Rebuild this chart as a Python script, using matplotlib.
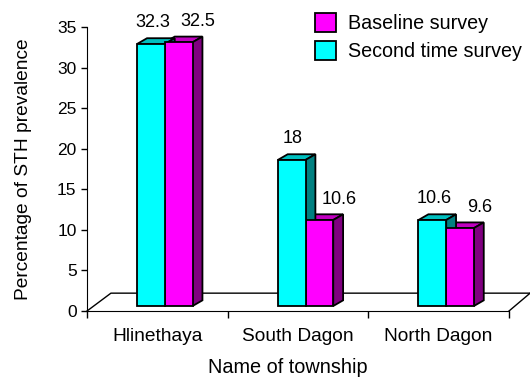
import matplotlib.pyplot as plt
from matplotlib.patches import Polygon
from matplotlib.transforms import ScaledTranslation

plt.rcParams["font.family"] = ["Liberation Sans", "DejaVu Sans"]

townships = ["Hlinethaya", "South Dagon", "North Dagon"]
second_time = [32.3, 18.0, 10.6]
baseline = [32.5, 10.6, 9.6]

CYAN = ("#00FFFF", "#00BFBF", "#008080")
MAGENTA = ("#FF00FF", "#C000C0", "#800080")


def add_depth(ax, bars, colors, dx, dy, trans):
    # top and side faces for a fake 3d look
    for b in bars:
        x0, w, h = b.get_x(), b.get_width(), b.get_height()
        top = [(x0, h), (x0 + w, h), (x0 + w + dx, h + dy), (x0 + dx, h + dy)]
        side = [(x0 + w, 0), (x0 + w + dx, dy), (x0 + w + dx, h + dy), (x0 + w, h)]
        ax.add_patch(Polygon(top, closed=True, fc=colors[1], ec="black", lw=1.3,
                             transform=trans, clip_on=False, zorder=2))
        ax.add_patch(Polygon(side, closed=True, fc=colors[2], ec="black", lw=1.3,
                             transform=trans, clip_on=False, zorder=2))


fig = plt.figure(figsize=(5.3, 3.79), dpi=100)
ax = fig.add_axes([0.1642, 0.1794, 0.7962, 0.7494])

x = list(range(len(townships)))
width = 0.197
shift = ScaledTranslation(0, 0.05, fig.dpi_scale_trans)
trans = ax.transData + shift

xs_c = [i - 0.045 for i in x]
xs_m = [i + 0.152 for i in x]
bars_m = ax.bar(xs_m, baseline, width, color=MAGENTA[0], edgecolor="black",
                linewidth=1.3, label="Baseline survey", transform=trans,
                zorder=3, clip_on=False)
add_depth(ax, bars_m, MAGENTA, 0.07, 0.7, trans)
bars_c = ax.bar(xs_c, second_time, width, color=CYAN[0], edgecolor="black",
                linewidth=1.3, label="Second time survey", transform=trans,
                zorder=4, clip_on=False)
add_depth(ax, bars_c, CYAN, 0.07, 0.7, trans)

# value labels
for xi, v in zip(xs_c, second_time):
    ax.annotate(f"{v:g}", (xi, v), xytext=(1, 19), textcoords="offset points",
                ha="center", va="center", fontsize=13)
for xi, v in zip(xs_m, baseline):
    ax.annotate(f"{v:g}", (xi, v), xytext=(14, 18.5), textcoords="offset points",
                ha="center", va="center", fontsize=13)

# floor
ax.plot([-0.5, -0.33, 2.65], [0, 2.2, 2.2], color="black", lw=1, clip_on=False, zorder=1)
ax.plot([2.5, 2.65], [0, 2.2], color="black", lw=1, clip_on=False, zorder=1)

ax.set_xlim(-0.5, 2.5)
ax.set_ylim(0, 35)
ax.set_yticks(range(0, 36, 5))
ax.set_xticks([-0.5, 0.5, 1.5, 2.5])
ax.set_xticklabels([])
ax.set_xticks(x, townships, minor=True)
ax.tick_params(axis="x", which="minor", length=0, pad=12, labelsize=13.8)
ax.tick_params(axis="x", which="major", length=5, width=1)
ax.tick_params(axis="y", length=4, width=1, labelsize=12.5)
for s in ["top", "right"]:
    ax.spines[s].set_visible(False)
ax.set_ylabel("Percentage of STH prevalence", fontsize=13.8, labelpad=18)
ax.set_xlabel("Name of township", fontsize=14.3)
ax.xaxis.set_label_coords(0.476, -0.165)

handles, labels = ax.get_legend_handles_labels()
fig.legend(handles, labels, loc="upper left", bbox_to_anchor=(0.56, 1.012),
           frameon=False, fontsize=14.2, handlelength=1.1, handleheight=1.1,
           handletextpad=0.6, labelspacing=0.4)

fig.savefig("out.png", dpi=100)
